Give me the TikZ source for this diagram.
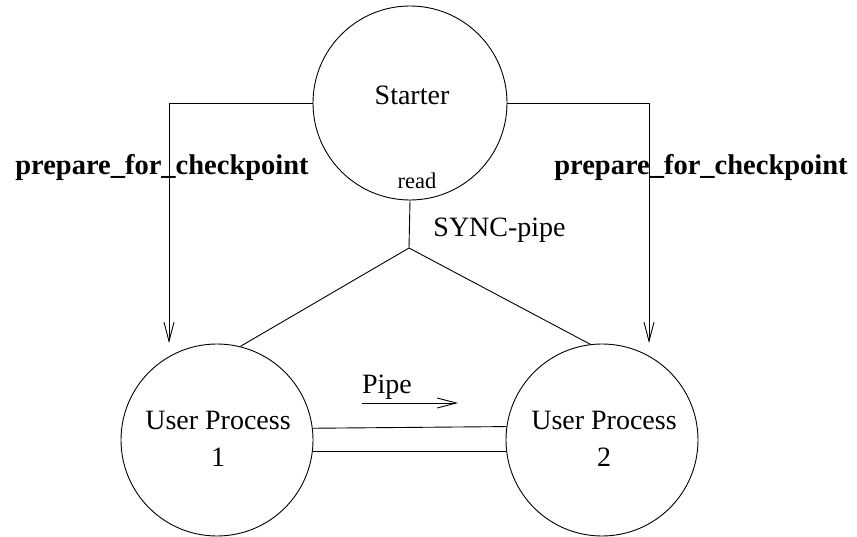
\documentclass[tikz,border=0pt]{standalone}
\usepackage{fontspec}
\setmainfont{Liberation Serif}
\usetikzlibrary{arrows.meta}
\begin{document}
\begin{tikzpicture}[x=1pt,y=-1pt,line width=0.9pt,
  proc/.style={draw,circle,minimum size=#1,inner sep=0pt},
  txt/.style={inner sep=0pt,font=\fontsize{28}{37}\selectfont},
  small/.style={inner sep=0pt,font=\fontsize{22.5}{27}\selectfont},
  boldlbl/.style={inner sep=0pt,font=\fontsize{28.5}{34}\selectfont\bfseries},
  arr/.style={-{Straight Barb[length=19pt,width=10pt]}}]
\useasboundingbox (0,0) rectangle (857,537);
% circles
\node[proc=194pt] (starter) at (410,103) {};
\node[proc=192pt] (up1) at (217,440) {};
\node[proc=192pt] (up2) at (602,440) {};
% texts
\node[txt,anchor=base] (tstarter) at (412,105) {Starter};
\node[txt,align=center] (tup1) at (218,438.5) {User Process\\1};
\node[txt,align=center] (tup2) at (604,438.5) {User Process\\2};
\node[small,anchor=base] (tread) at (417,189) {read};
\node[txt,anchor=base west] (tsync) at (433,237) {SYNC-pipe};
\node[txt,anchor=base] (tpipe) at (387,393) {Pipe};
\node[boldlbl] (lprep) at (162,168) {prepare\_for\_checkpoint};
\node[boldlbl] (rprep) at (701,168) {prepare\_for\_checkpoint};
% coordinates
\coordinate (a1end) at (169,343);
\coordinate (a2end) at (649,343);
\coordinate (junc) at (409,248);
\coordinate (p1) at (362,403);
\coordinate (p2) at (458,403);
% connectors
\draw[arr] (starter.west) -| (a1end);
\draw[arr] (starter.east) -| (a2end);
\draw (starter.south) -- (junc);
\draw (junc) -- (up1.76.7);
\draw (junc) -- (up2.97);
\draw (up1.7.2) -- (up2.172.8);
\draw (up1.-7.2) -- (up2.187.2);
\draw[arr] (p1) -- (p2);
\end{tikzpicture}
\end{document}
